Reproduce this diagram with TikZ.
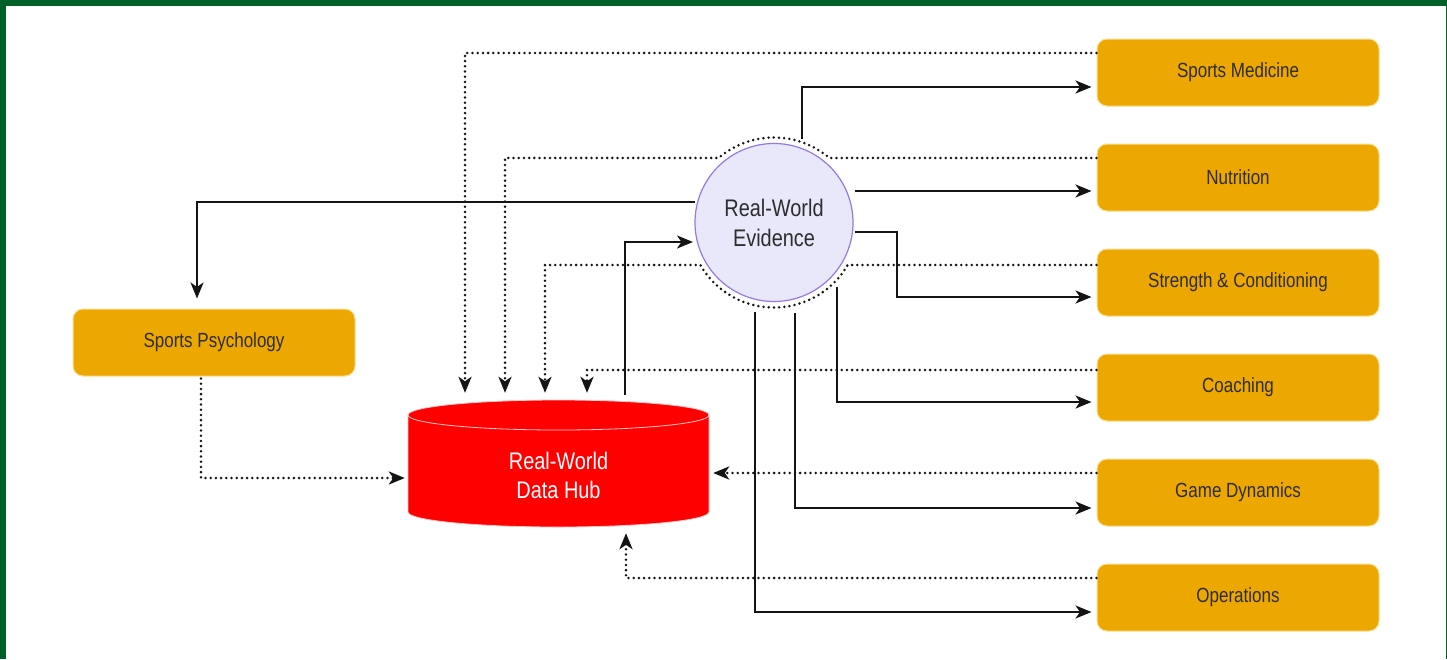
\documentclass[tikz,border=0pt]{standalone}
\usepackage{fontspec}
\setmainfont{Liberation Sans}[FakeStretch=0.83]
\usetikzlibrary{arrows.meta,calc}

\definecolor{frame}{RGB}{0,96,40}
\definecolor{boxfill}{RGB}{236,168,0}
\definecolor{boxline}{RGB}{250,222,145}
\definecolor{evfill}{RGB}{232,232,250}
\definecolor{evline}{RGB}{150,120,225}
\definecolor{hubfill}{RGB}{255,0,0}
\definecolor{hubline}{RGB}{255,200,200}
\definecolor{ink}{RGB}{20,20,20}
\definecolor{label}{RGB}{45,45,45}

\begin{document}
\begin{tikzpicture}[x=1pt,y=1pt,
  area/.style={draw=boxline, line width=1pt, fill=boxfill, rounded corners=10pt,
    minimum width=282pt, minimum height=67pt, inner sep=0pt, text=label,
    font=\fontsize{20.5}{24}\selectfont},
  tip/.style={-{Stealth[length=16pt,width=13pt,inset=4.5pt]}},
  flow/.style={draw=ink, line width=2.4pt, tip},
  feed/.style={draw=ink, line width=2.8pt, line cap=round,
    dash pattern=on 0pt off 5.2pt, tip}
]
% page and frame
\useasboundingbox (0,0) rectangle (1447,-659);
\fill[frame] (0,0) rectangle (1447,-659);
\fill[white] (6,-6) rectangle (1445.5,-660);

% data hub cylinder
\fill[hubfill] (408,-415) -- (408,-512)
  arc[start angle=180, end angle=360, x radius=150.5, y radius=15]
  -- (709,-415)
  arc[start angle=0, end angle=180, x radius=150.5, y radius=15] -- cycle;
\draw[hubline, line width=0.8pt] (408,-415) -- (408,-512)
  arc[start angle=180, end angle=360, x radius=150.5, y radius=15]
  -- (709,-415)
  arc[start angle=0, end angle=180, x radius=150.5, y radius=15] -- cycle;
\draw[hubline, line width=0.8pt] (408,-415)
  arc[start angle=180, end angle=360, x radius=150.5, y radius=15];
\node[minimum width=301pt, minimum height=127pt, inner sep=0pt] (hub) at (558.5,-463.5) {};
\node[text=white, align=center, font=\fontsize{24}{29}\selectfont] (hubtext)
  at (558.5,-475) {Real-World\\Data Hub};

% evidence circle
\node[circle, draw=evline, fill=evfill, line width=1.2pt, minimum size=158pt,
  inner sep=0pt, text=label, align=center, font=\fontsize{24}{30}\selectfont]
  (rwe) at (774,-222.5) {Real-World\\Evidence};

% discipline boxes
\node[area] (med) at (1238,-72.5)  {Sports Medicine};
\node[area] (nut) at (1238,-177.5) {Nutrition};
\node[area] (str) at (1238,-282.5) {Strength \& Conditioning};
\node[area] (coa) at (1238,-387.5) {Coaching};
\node[area] (gam) at (1238,-492.5) {Game Dynamics};
\node[area] (ops) at (1238,-597.5) {Operations};
\node[area] (psy) at (214,-342.5)  {Sports Psychology};

% evidence flowing out
\draw[flow] ($(rwe.center)+(28,84)$) |- ($(med.west)+(-5,-14.5)$);
\draw[flow] ($(rwe.center)+(81,31.5)$) -- ($(nut.west)+(-5,-13.5)$);
\draw[flow] ($(rwe.center)+(81,-9.5)$) -- ++(42,0) |- ($(str.west)+(-5,-14.5)$);
\draw[flow] ($(rwe.center)+(63,-64.5)$) |- ($(coa.west)+(-5,-14.5)$);
\draw[flow] ($(rwe.center)+(21,-90.5)$) |- ($(gam.west)+(-5,-15.5)$);
\draw[flow] ($(rwe.center)+(-19,-89.5)$) |- ($(ops.west)+(-5,-14.5)$);
\draw[flow] ($(rwe.center)+(-79,20.5)$) -| ($(psy.north)+(-17,10)$);
\draw[flow] ($(hub.north)+(66.5,5)$) |- ($(rwe.center)+(-81,-19.5)$);

% data feeding the hub
\draw[feed] ($(med.west)+(0,19.5)$) -| ($(hub.north)+(-93.5,7)$);
\draw[feed] ($(nut.west)+(0,19.5)$) -- ($(rwe.center)+(49.4:85)$)
  arc[start angle=49.4, end angle=130.6, radius=85]
  -| ($(hub.north)+(-53.5,7)$);
\draw[feed] ($(str.west)+(0,17.5)$) -- ($(rwe.center)+(-30:85)$)
  arc[start angle=-30, end angle=-150, radius=85]
  -| ($(hub.north)+(-13.5,7)$);
\draw[feed] ($(coa.west)+(0,17.5)$) -| ($(hub.north)+(28.5,7)$);
\draw[feed] ($(gam.west)+(0,19.5)$) -- ($(hub.east)+(4,-9.5)$);
\draw[feed] ($(ops.west)+(0,19.5)$) -| ($(hub.south)+(67.5,-6)$);
\draw[feed] ($(psy.south)+(-13,-2)$) |- ($(hub.west)+(-3,-14.5)$);
\end{tikzpicture}
\end{document}
